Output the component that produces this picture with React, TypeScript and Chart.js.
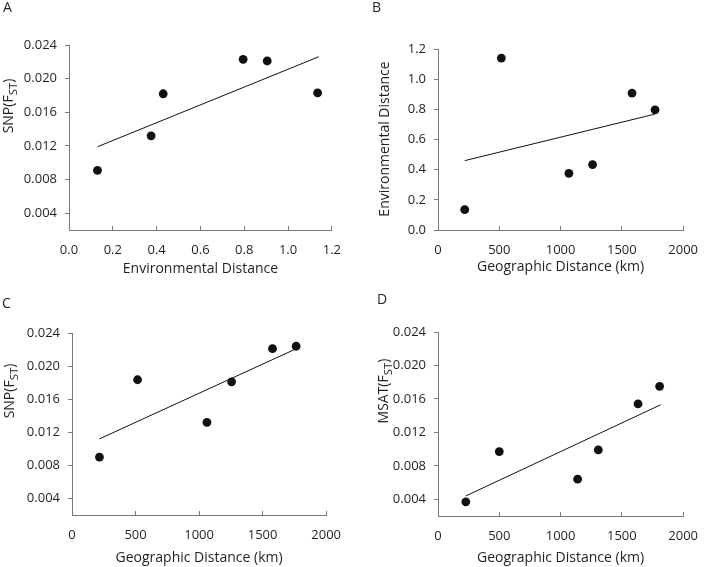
import React, { useEffect, useRef } from "react";
import { Chart, registerables } from "chart.js";
Chart.register(...registerables);

// ---------- DATA ----------
// Panel A: SNP(FST) vs Environmental Distance
const aEnvDist = [0.13, 0.375, 0.43, 0.795, 0.905, 1.135];
const aSnpFst = [0.0091, 0.0132, 0.0182, 0.0223, 0.0221, 0.0183];
const aTrendX = [0.13, 1.14];
const aTrendY = [0.0119, 0.0226];

// Panel B: Environmental Distance vs Geographic Distance
const bGeoDist = [218, 517, 1068, 1261, 1583, 1771];
const bEnvDist = [0.135, 1.14, 0.376, 0.434, 0.908, 0.797];
const bTrendX = [218, 1768];
const bTrendY = [0.46, 0.768];

// Panel C: SNP(FST) vs Geographic Distance
const cGeoDist = [216, 516, 1062, 1256, 1578, 1764];
const cSnpFst = [0.009, 0.01835, 0.0132, 0.0181, 0.0221, 0.0224];
const cTrendX = [216, 1751];
const cTrendY = [0.0112, 0.022];

// Panel D: MSAT(FST) vs Geographic Distance
const dGeoDist = [227, 500, 1139, 1308, 1632, 1808];
const dMsatFst = [0.0037, 0.0097, 0.0064, 0.0099, 0.0154, 0.0175];
const dTrendX = [227, 1817];
const dTrendY = [0.0044, 0.0153];

// Tick labels
const fstTicks = [0.004, 0.008, 0.012, 0.016, 0.02, 0.024];
const envTicks = [0, 0.2, 0.4, 0.6, 0.8, 1.0, 1.2];
const geoTicks = [0, 500, 1000, 1500, 2000];

// ---------- STYLE ----------
const FONT = "'Open Sans', 'DejaVu Sans', sans-serif";
const TEXT = "#231f20";
const AXIS = "#7a7a7a";
const INK = "#111111";
const TICK_SIZE = 13;
const TITLE_SIZE = 14;
const LETTER_SIZE = 14;

type Seg = { t: string; sub?: boolean };
type PanelDef = {
  letter: string;
  left: number; top: number; w: number; h: number;
  area: { l: number; t: number; r: number; b: number };
  xs: number[]; ys: number[]; tx: number[]; ty: number[];
  xMin: number; xMax: number; xTicks: number[]; xDec: number;
  yMin: number; yMax: number; yTicks: number[]; yDec: number;
  xTitle: string; xTitleBase: number;
  yTitle: Seg[]; yTitleBase: number; yTitleCenter: number;
  letterX: number; letterBase: number;
};

const panels: PanelDef[] = [
  {
    letter: "A", left: 0, top: 0, w: 357, h: 283,
    area: { l: 69, t: 45, r: 334, b: 230 },
    xs: aEnvDist, ys: aSnpFst, tx: aTrendX, ty: aTrendY,
    xMin: 0, xMax: 1.2, xTicks: envTicks, xDec: 1,
    yMin: 0.002, yMax: 0.024, yTicks: fstTicks, yDec: 3,
    xTitle: "Environmental Distance", xTitleBase: 273,
    yTitle: [{ t: "SNP(F" }, { t: "ST", sub: true }, { t: ")" }], yTitleBase: 13, yTitleCenter: 106,
    letterX: 3, letterBase: 12,
  },
  {
    letter: "B", left: 357, top: 0, w: 357, h: 283,
    area: { l: 81, t: 49, r: 340, b: 230 },
    xs: bGeoDist, ys: bEnvDist, tx: bTrendX, ty: bTrendY,
    xMin: 0, xMax: 2000, xTicks: geoTicks, xDec: 0,
    yMin: 0, yMax: 1.2, yTicks: envTicks, yDec: 1,
    xTitle: "Geographic Distance (km)", xTitleBase: 271,
    yTitle: [{ t: "Environmental Distance" }], yTitleBase: 32, yTitleCenter: 139,
    letterX: 15, letterBase: 12,
  },
  {
    letter: "C", left: 0, top: 283, w: 357, h: 284,
    area: { l: 72, t: 50, r: 334, b: 232 },
    xs: cGeoDist, ys: cSnpFst, tx: cTrendX, ty: cTrendY,
    xMin: 0, xMax: 2000, xTicks: geoTicks, xDec: 0,
    yMin: 0.002, yMax: 0.024, yTicks: fstTicks, yDec: 3,
    xTitle: "Geographic Distance (km)", xTitleBase: 279,
    yTitle: [{ t: "SNP(F" }, { t: "ST", sub: true }, { t: ")" }], yTitleBase: 14, yTitleCenter: 108,
    letterX: 2, letterBase: 25,
  },
  {
    letter: "D", left: 357, top: 283, w: 357, h: 284,
    area: { l: 81, t: 49, r: 345, b: 233 },
    xs: dGeoDist, ys: dMsatFst, tx: dTrendX, ty: dTrendY,
    xMin: 0, xMax: 2000, xTicks: geoTicks, xDec: 0,
    yMin: 0.002, yMax: 0.024, yTicks: fstTicks, yDec: 3,
    xTitle: "Geographic Distance (km)", xTitleBase: 279,
    yTitle: [{ t: "MSAT(F" }, { t: "ST", sub: true }, { t: ")" }], yTitleBase: 31, yTitleCenter: 108,
    letterX: 20, letterBase: 21,
  },
];

function makeConfig(p: PanelDef): any {
  const titles = {
    id: "titles" + p.letter,
    afterDraw(chart: any) {
      const ctx = chart.ctx;
      const ca = chart.chartArea;
      ctx.save();
      ctx.fillStyle = TEXT;
      // panel letter
      ctx.font = `${LETTER_SIZE}px ${FONT}`;
      ctx.textAlign = "left";
      ctx.textBaseline = "alphabetic";
      ctx.fillText(p.letter, p.letterX, p.letterBase);
      // x title
      ctx.font = `${TITLE_SIZE}px ${FONT}`;
      ctx.textAlign = "center";
      ctx.fillText(p.xTitle, (ca.left + ca.right) / 2, p.xTitleBase);
      // y title (rotated, with subscript)
      const subSize = TITLE_SIZE * 0.82;
      let total = 0;
      const widths = p.yTitle.map((s) => {
        ctx.font = `${s.sub ? subSize : TITLE_SIZE}px ${FONT}`;
        const w = ctx.measureText(s.t).width;
        total += w;
        return w;
      });
      ctx.translate(p.yTitleBase, p.yTitleCenter);
      ctx.rotate(-Math.PI / 2);
      ctx.textAlign = "left";
      let x = -total / 2;
      p.yTitle.forEach((s, i) => {
        ctx.font = `${s.sub ? subSize : TITLE_SIZE}px ${FONT}`;
        ctx.fillText(s.t, x, s.sub ? 3.5 : 0);
        x += widths[i];
      });
      ctx.restore();
    },
  };

  return {
    type: "scatter",
    data: {
      datasets: [
        {
          data: p.xs.map((x, i) => ({ x, y: p.ys[i] })),
          backgroundColor: INK,
          borderColor: INK,
          pointRadius: 4.4,
          pointHoverRadius: 4.4,
          borderWidth: 0,
        },
        {
          data: p.tx.map((x, i) => ({ x, y: p.ty[i] })),
          showLine: true,
          borderColor: INK,
          borderWidth: 1,
          pointRadius: 0,
          pointHoverRadius: 0,
          fill: false,
        },
      ],
    },
    options: {
      responsive: false,
      animation: false,
      events: [],
      layout: { padding: { left: 0, top: p.area.t, right: p.w - p.area.r, bottom: 0 } },
      plugins: { legend: { display: false }, tooltip: { enabled: false } },
      scales: {
        x: {
          type: "linear",
          min: p.xMin,
          max: p.xMax,
          afterBuildTicks: (s: any) => { s.ticks = p.xTicks.map((v) => ({ value: v })); },
          afterFit: (s: any) => { s.height = p.h - p.area.b; },
          grid: { drawOnChartArea: false, drawTicks: true, tickLength: -4, tickColor: AXIS, lineWidth: 1 },
          border: { display: true, color: AXIS, width: 1 },
          ticks: {
            padding: 16,
            color: TEXT,
            font: { family: FONT, size: TICK_SIZE },
            maxRotation: 0,
            autoSkip: false,
            callback: (v: any) => Number(v).toFixed(p.xDec),
          },
        },
        y: {
          type: "linear",
          min: p.yMin,
          max: p.yMax,
          afterBuildTicks: (s: any) => { s.ticks = p.yTicks.map((v) => ({ value: v })); },
          afterFit: (s: any) => { s.width = p.area.l; },
          grid: { drawOnChartArea: false, drawTicks: true, tickLength: 4, tickColor: AXIS, lineWidth: 1 },
          border: { display: true, color: AXIS, width: 1 },
          ticks: {
            padding: 8,
            color: TEXT,
            font: { family: FONT, size: TICK_SIZE },
            autoSkip: false,
            callback: (v: any) => Number(v).toFixed(p.yDec),
          },
        },
      },
    },
    plugins: [titles],
  };
}

function Panel({ p }: { p: PanelDef }) {
  const ref = useRef<HTMLCanvasElement | null>(null);
  useEffect(() => {
    if (!ref.current) return;
    const chart = new Chart(ref.current, makeConfig(p));
    return () => chart.destroy();
  }, [p]);
  return (
    <canvas
      ref={ref}
      width={p.w}
      height={p.h}
      style={{ position: "absolute", left: p.left, top: p.top, width: p.w, height: p.h }}
    />
  );
}

export default function App() {
  return (
    <div style={{ position: "absolute", left: 0, top: 0, width: 714, height: 567, background: "#fff" }}>
      {panels.map((p) => (
        <Panel key={p.letter} p={p} />
      ))}
    </div>
  );
}
